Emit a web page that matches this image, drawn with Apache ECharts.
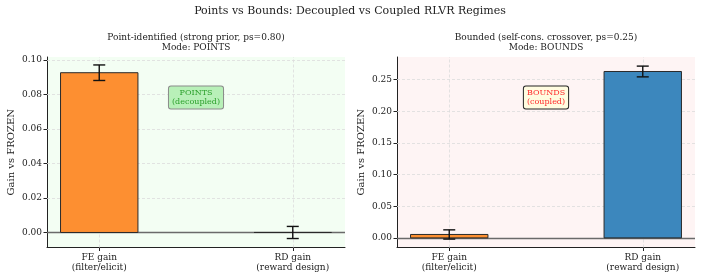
<!DOCTYPE html>
<html>
<head>
<meta charset="utf-8">
<script src="https://cdn.jsdelivr.net/npm/echarts@6/dist/echarts.min.js"></script>
<style>
  html, body { margin: 0; padding: 0; background: #fff; }
  #chart { width: 701px; height: 280px; }
</style>
</head>
<body>
<div id="chart"></div>
<script>
// data
let categories = ['FE gain\n(filter/elicit)', 'RD gain\n(reward design)'];
let cat_pos = [0, 1];
let points_gain = [0.0925, 0.0];
let points_err = [0.0045, 0.0035];
let bounds_gain = [0.0054, 0.263];
let bounds_err = [0.0073, 0.0085];
let points_ticks = [0, 0.02, 0.04, 0.06, 0.08, 0.10];
let bounds_ticks = [0, 0.05, 0.10, 0.15, 0.20, 0.25];
let bar_colors = ['#fd8f31', '#3c87bd'];

let font = 'DejaVu Serif';
let ink = '#222';
let grid_style = { color: '#dcdcdc', type: [3, 2], width: 0.8 };

function render_bar(params, api) {
  let x = api.value(0);
  let y = api.value(1);
  let p0 = api.coord([x - 0.2, 0]);
  let p1 = api.coord([x + 0.2, y]);
  return {
    type: 'rect',
    shape: {
      x: p0[0],
      y: Math.min(p0[1], p1[1]),
      width: p1[0] - p0[0],
      height: Math.abs(p1[1] - p0[1])
    },
    style: { fill: bar_colors[params.dataIndex], stroke: '#2a2a2a', lineWidth: 1 }
  };
}

function render_err(params, api) {
  let x = api.value(0);
  let y = api.value(1);
  let e = api.value(2);
  let hi = api.coord([x, y + e]);
  let lo = api.coord([x, y - e]);
  let cap = 6;
  let st = { stroke: '#111', lineWidth: 1.4 };
  return {
    type: 'group',
    children: [
      { type: 'line', shape: { x1: hi[0], y1: hi[1], x2: lo[0], y2: lo[1] }, style: st },
      { type: 'line', shape: { x1: hi[0] - cap, y1: hi[1], x2: hi[0] + cap, y2: hi[1] }, style: st },
      { type: 'line', shape: { x1: lo[0] - cap, y1: lo[1], x2: lo[0] + cap, y2: lo[1] }, style: st }
    ]
  };
}

function make_x(idx) {
  return {
    type: 'value',
    gridIndex: idx,
    min: -0.27,
    max: 1.27,
    splitLine: { show: false },
    axisLine: { onZero: false, lineStyle: { color: ink, width: 1 } },
    axisTick: { customValues: cat_pos, length: 3.5, lineStyle: { color: ink } },
    axisLabel: {
      customValues: cat_pos,
      formatter: function (v) { return categories[Math.round(v)]; },
      fontFamily: font, fontSize: 9, lineHeight: 10, color: ink, margin: 5
    }
  };
}

function make_y(idx, mn, mx, ticks) {
  return {
    type: 'value',
    gridIndex: idx,
    min: mn,
    max: mx,
    name: 'Gain vs FROZEN',
    nameLocation: 'middle',
    nameGap: 31,
    nameTextStyle: { fontFamily: font, fontSize: 10, color: ink },
    axisLine: { show: true, onZero: false, lineStyle: { color: ink, width: 1 } },
    axisTick: { show: true, customValues: ticks, length: 3.5, lineStyle: { color: ink } },
    axisLabel: {
      customValues: ticks,
      formatter: function (v) { return v.toFixed(2); },
      fontFamily: font, fontSize: 9, color: ink, margin: 5
    },
    splitLine: { show: false }
  };
}

function gridlines(ticks) {
  let data = [];
  for (let i = 0; i < cat_pos.length; i++) {
    data.push({ xAxis: cat_pos[i], lineStyle: grid_style });
  }
  for (let i = 1; i < ticks.length; i++) {
    data.push({ yAxis: ticks[i], lineStyle: grid_style });
  }
  data.push({ yAxis: 0, lineStyle: { color: '#6a6a6a', type: 'solid', width: 1.3 } });
  return { silent: true, symbol: 'none', z: 1, label: { show: false }, data: data };
}

function series_for(idx, gains, errs, ticks) {
  let bars = [];
  let errbars = [];
  for (let i = 0; i < gains.length; i++) {
    bars.push([cat_pos[i], gains[i]]);
    errbars.push([cat_pos[i], gains[i], errs[i]]);
  }
  return [
    {
      type: 'custom', xAxisIndex: idx, yAxisIndex: idx, z: 3,
      renderItem: render_bar, data: bars, silent: true,
      markLine: gridlines(ticks)
    },
    {
      type: 'custom', xAxisIndex: idx, yAxisIndex: idx, z: 4,
      renderItem: render_err, data: errbars, silent: true
    }
  ];
}

let chart = echarts.init(document.getElementById('chart'), null, { renderer: 'canvas' });

let option = {
  animation: false,
  backgroundColor: '#fff',
  grid: [
    { left: 47, top: 57, width: 298, height: 190.5, show: true, backgroundColor: '#f3fef3', borderWidth: 0 },
    { left: 397, top: 57, width: 298, height: 190.5, show: true, backgroundColor: '#fef4f4', borderWidth: 0 }
  ],
  xAxis: [make_x(0), make_x(1)],
  yAxis: [make_y(0, -0.0087, 0.1016, points_ticks), make_y(1, -0.0152, 0.2859, bounds_ticks)],
  series: series_for(0, points_gain, points_err, points_ticks)
    .concat(series_for(1, bounds_gain, bounds_err, bounds_ticks)),
  graphic: [
    {
      type: 'text', x: 350, y: 11,
      style: { text: 'Points vs Bounds: Decoupled vs Coupled RLVR Regimes', fontFamily: font, fontSize: 11, fill: ink, align: 'center', verticalAlign: 'middle' }
    },
    {
      type: 'text', x: 196, y: 43,
      style: { text: 'Point-identified (strong prior, ps=0.80)\nMode: POINTS', fontFamily: font, fontSize: 9, lineHeight: 10, fill: ink, align: 'center', verticalAlign: 'middle' }
    },
    {
      type: 'text', x: 546, y: 43,
      style: { text: 'Bounded (self-cons. crossover, ps=0.25)\nMode: BOUNDS', fontFamily: font, fontSize: 9, lineHeight: 10, fill: ink, align: 'center', verticalAlign: 'middle' }
    },
    {
      type: 'text', x: 196, y: 97.5, z: 10,
      style: {
        text: 'POINTS\n(decoupled)', fontFamily: font, fontSize: 8, lineHeight: 9, fill: '#2ca02c',
        align: 'center', verticalAlign: 'middle',
        backgroundColor: '#b8f0b8', borderColor: '#8a8a8a', borderWidth: 1, borderRadius: 2, padding: [2, 3]
      }
    },
    {
      type: 'text', x: 546, y: 97.5, z: 10,
      style: {
        text: 'BOUNDS\n(coupled)', fontFamily: font, fontSize: 8, lineHeight: 9, fill: '#ff2a2a',
        align: 'center', verticalAlign: 'middle',
        backgroundColor: '#fffce0', borderColor: '#222', borderWidth: 1, borderRadius: 2, padding: [2, 3]
      }
    }
  ]
};
chart.setOption(option);
</script>
</body>
</html>
